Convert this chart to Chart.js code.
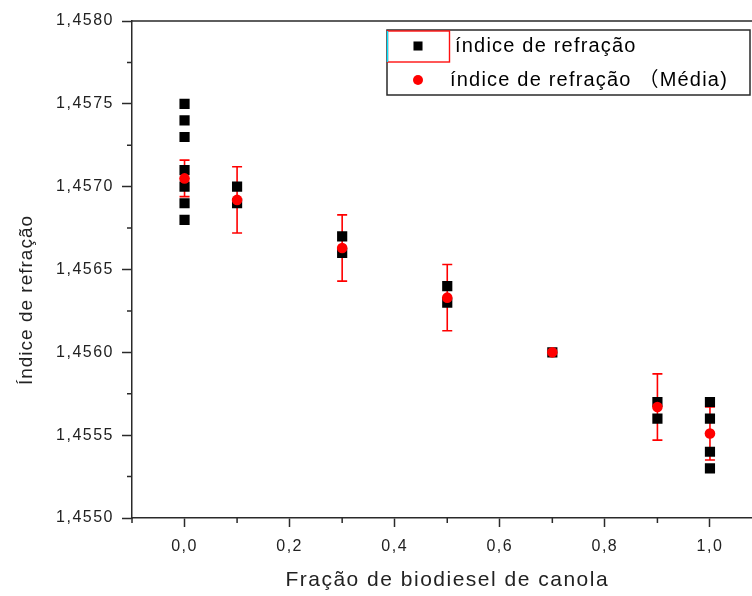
<!DOCTYPE html>
<html>
<head>
<meta charset="utf-8">
<script src="https://cdn.jsdelivr.net/npm/chart.js@4.4.1/dist/chart.umd.min.js"></script>
<style>
	html, body { margin: 0; padding: 0; background: #fff; overflow: hidden; }
	#chartContainer { width: 790px; height: 596px; }
</style>
</head>
<body>
<div id="chartContainer"><canvas id="refractionChart" width="790" height="596"></canvas></div>
<script>
var fractionTitle = "Fração de biodiesel de canola";
var indexTitle = "Índice de refração";
var seriesLabels = ["índice de refração", "índice de refração （Média)"];

// individual readings
var measuredFraction = [0, 0, 0, 0, 0, 0, 0, 0.1, 0.1, 0.3, 0.3, 0.5, 0.5, 0.7, 0.9, 0.9, 1.0, 1.0, 1.0, 1.0];
var measuredIndex = [1.4575, 1.4574, 1.4573, 1.4571, 1.4570, 1.4569, 1.4568, 1.4570, 1.4569, 1.4567, 1.4566,
	1.4564, 1.4563, 1.4560, 1.4557, 1.4556, 1.4557, 1.4556, 1.4554, 1.4553];

// averages with their deviation
var meanFraction = [0, 0.1, 0.3, 0.5, 0.7, 0.9, 1.0];
var meanIndex = [1.45705, 1.45692, 1.45663, 1.45633, 1.45600, 1.45567, 1.45551];
var meanError = [0.00011, 0.00020, 0.00020, 0.00020, 0, 0.00020, 0.00016];

var xTicks = [0, 0.2, 0.4, 0.6, 0.8, 1.0];
var xMinorTicks = [-0.1, 0.1, 0.3, 0.5, 0.7, 0.9, 1.1];
var yTicks = [1.4550, 1.4555, 1.4560, 1.4565, 1.4570, 1.4575, 1.4580];
var yMinorTicks = [1.45525, 1.45575, 1.45625, 1.45675, 1.45725, 1.45775];

var axisColor = '#2a2a2a';
var fontStack = '"Liberation Sans", Arial, "Noto Sans CJK SC", sans-serif';

Chart.defaults.font.family = fontStack;
Chart.defaults.color = '#222';

var errorBarPlugin = {
	id: 'errorBars',
	beforeDatasetsDraw(chart) {
		const ctx = chart.ctx, xs = chart.scales.x, ys = chart.scales.y;
		ctx.save();
		ctx.strokeStyle = '#ff0000';
		ctx.lineWidth = 1.6;
		meanFraction.forEach(function(f, i){
			if (!meanError[i])
				return;
			const px = xs.getPixelForValue(f);
			const top = ys.getPixelForValue(meanIndex[i] + meanError[i]);
			const bottom = ys.getPixelForValue(meanIndex[i] - meanError[i]);
			ctx.beginPath();
			ctx.moveTo(px, top); ctx.lineTo(px, bottom);
			ctx.moveTo(px - 5, top); ctx.lineTo(px + 5, top);
			ctx.moveTo(px - 5, bottom); ctx.lineTo(px + 5, bottom);
			ctx.stroke();
		});
		ctx.restore();
	}
};

// top border of the frame, the short minor ticks and the y title (sits a bit low)
var framePlugin = {
	id: 'frame',
	beforeDraw(chart) {
		chart.ctx.letterSpacing = '1.5px';
	},
	afterDraw(chart) {
		const ctx = chart.ctx, area = chart.chartArea, xs = chart.scales.x, ys = chart.scales.y;
		ctx.save();
		ctx.strokeStyle = axisColor;
		ctx.lineWidth = 1.5;
		ctx.beginPath();
		ctx.moveTo(area.left, area.top);
		ctx.lineTo(area.right, area.top);
		xMinorTicks.forEach(function(v){
			const px = xs.getPixelForValue(v);
			ctx.moveTo(px, area.bottom);
			ctx.lineTo(px, area.bottom + 5);
		});
		yMinorTicks.forEach(function(v){
			const py = ys.getPixelForValue(v);
			ctx.moveTo(area.left, py);
			ctx.lineTo(area.left - 5, py);
		});
		ctx.stroke();

		ctx.translate(27, 300);
		ctx.rotate(-Math.PI / 2);
		ctx.font = '19px ' + fontStack;
		ctx.letterSpacing = '1px';
		ctx.fillStyle = '#222';
		ctx.textAlign = 'center';
		ctx.textBaseline = 'middle';
		ctx.fillText(indexTitle, 0, 0);
		ctx.restore();
	}
};

var boxLegendPlugin = {
	id: 'boxLegend',
	afterDraw(chart) {
		const ctx = chart.ctx;
		const helpers = Chart.helpers;
		ctx.save();
		ctx.fillStyle = '#fff';
		ctx.fillRect(387, 30, 363, 65);
		ctx.strokeStyle = axisColor;
		ctx.lineWidth = 1.5;
		ctx.strokeRect(387, 30, 363, 65);

		ctx.strokeStyle = '#ff1010';
		ctx.lineWidth = 1.4;
		ctx.strokeRect(387.5, 31, 62, 31);
		ctx.strokeStyle = '#00e5ff';
		ctx.beginPath();
		ctx.moveTo(387.5, 31); ctx.lineTo(387.5, 62);
		ctx.stroke();

		const rows = [
			{ ds: chart.data.datasets[1], y: 46, tx: 455, r: 6.4 },
			{ ds: chart.data.datasets[0], y: 80, tx: 450, r: 5 }
		];
		rows.forEach(function(row){
			ctx.fillStyle = row.ds.backgroundColor;
			ctx.strokeStyle = row.ds.backgroundColor;
			helpers.drawPoint(ctx, { pointStyle: row.ds.pointStyle, radius: row.r, borderWidth: 0 }, 418, row.y);
			ctx.fillStyle = '#000';
			ctx.font = '20px ' + fontStack;
			ctx.letterSpacing = '1.2px';
			ctx.textBaseline = 'middle';
			ctx.textAlign = 'left';
			ctx.fillText(row.ds.label, row.tx, row.y);
		});
		ctx.restore();
	}
};

function drawRefractionChart(){
	const measured = measuredFraction.map(function(f, i){ return { x: f, y: measuredIndex[i] }; });
	const means = meanFraction.map(function(f, i){ return { x: f, y: meanIndex[i] }; });

	return new Chart(document.getElementById("refractionChart"), {
		type: 'scatter',
		data: {
			datasets: [{
				label: seriesLabels[1],
				data: means,
				pointStyle: 'circle',
				pointRadius: 5.3,
				pointBorderWidth: 0,
				backgroundColor: '#ff0000',
				borderColor: '#ff0000',
				order: 0
			}, {
				label: seriesLabels[0],
				data: measured,
				pointStyle: 'rect',
				pointRadius: 7.2,
				pointBorderWidth: 0,
				backgroundColor: '#000000',
				borderColor: '#000000',
				order: 1
			}]
		},
		options: {
			responsive: false,
			animation: false,
			layout: { padding: { top: 21, left: 0, right: 27.5, bottom: 0 } },
			plugins: {
				legend: { display: false },
				tooltip: { enabled: false }
			},
			scales: {
				x: {
					type: 'linear',
					min: -0.1,
					max: 1.1,
					afterBuildTicks: function(scale){ scale.ticks = xTicks.map(function(v){ return { value: v }; }); },
					afterFit: function(scale){ scale.height = 78; },
					ticks: {
						font: { size: 16 },
						padding: 10,
						maxRotation: 0,
						callback: function(v){ return Number(v).toFixed(1).replace('.', ','); }
					},
					grid: { drawOnChartArea: false, drawTicks: true, tickLength: 9, tickWidth: 1.5, tickColor: axisColor },
					border: { display: true, color: axisColor, width: 1.5 },
					title: {
						display: true,
						text: fractionTitle,
						font: { size: 21 },
						color: '#222',
						padding: { top: 0, bottom: 3 }
					}
				},
				y: {
					type: 'linear',
					min: 1.4550,
					max: 1.4580,
					afterBuildTicks: function(scale){ scale.ticks = yTicks.map(function(v){ return { value: v }; }); },
					afterFit: function(scale){ scale.width = 132; },
					ticks: {
						font: { size: 16 },
						padding: 8,
						callback: function(v){ return Number(v).toFixed(4).replace('.', ','); }
					},
					grid: { drawOnChartArea: false, drawTicks: true, tickLength: 10, tickWidth: 1.5, tickColor: axisColor },
					border: { display: true, color: axisColor, width: 1.5 }
				}
			}
		},
		plugins: [errorBarPlugin, framePlugin, boxLegendPlugin]
	});
}

drawRefractionChart();
</script>
</body>
</html>
